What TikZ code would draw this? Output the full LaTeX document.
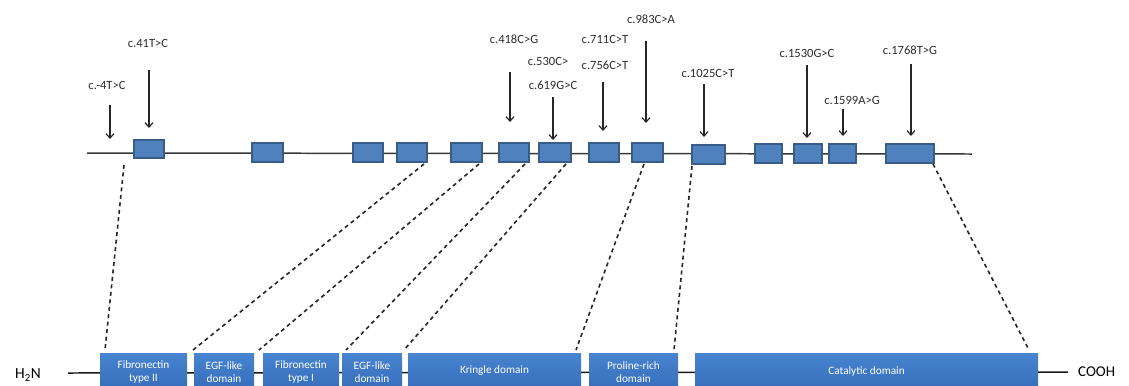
\documentclass[tikz,border=0pt]{standalone}
\usepackage{fontspec}
\setmainfont{Carlito}
\usetikzlibrary{arrows.meta,calc}
\definecolor{exfill}{RGB}{79,129,189}
\definecolor{exdraw}{RGB}{56,93,138}
\definecolor{domtop}{RGB}{72,132,208}
\definecolor{dombot}{RGB}{50,104,182}
\definecolor{txt}{RGB}{45,45,45}
\tikzset{
  exon/.style={draw=exdraw, fill=exfill, line width=1.1pt, inner sep=0pt, minimum height=19bp},
  dom/.style={top color=domtop, bottom color=dombot, draw=none, inner sep=0pt, anchor=north west},
  domtxt/.style={text=white, font=\fontsize{11.3}{13.5}\selectfont, align=center, inner sep=0pt},
  lab/.style={text=txt, font=\fontsize{12.6}{14}\selectfont, inner sep=0pt},
  mut/.style={-{Straight Barb[length=4.5bp,width=8bp,line width=1.2pt]}, line width=1.4pt, black!85},
  link/.style={dashed, dash pattern=on 4bp off 3.5bp, line width=1.6pt, black!85},
  axis/.style={line width=1.5pt, black!78},
}
\begin{document}
\begin{tikzpicture}[x=1bp,y=-1bp]
\useasboundingbox (0,0) rectangle (1129,385);
\clip (0,0) rectangle (1129,385);
\fill[white] (0,0) rectangle (1129,385);
% gene line
\coordinate (gl) at (87,153);
\coordinate (gr) at (972,154);
\draw[axis] (gl) -- (gr);
% exons
\node[exon, minimum width=30bp, minimum height=18bp] (e1) at (149,149) {};
\node[exon, minimum width=31bp] (e2) at (267.5,152.5) {};
\node[exon, minimum width=30bp] (e3) at (368,152.5) {};
\node[exon, minimum width=30bp] (e4) at (412,152.5) {};
\node[exon, minimum width=31bp] (e5) at (466.5,152.5) {};
\node[exon, minimum width=30bp] (e6) at (514,152.5) {};
\node[exon, minimum width=32bp] (e7) at (555,152.5) {};
\node[exon, minimum width=30bp] (e8) at (604,152.5) {};
\node[exon, minimum width=31bp] (e9) at (647.5,152.5) {};
\node[exon, minimum width=33bp] (e10) at (708.5,154.5) {};
\node[exon, minimum width=27bp] (e11) at (768.5,153.5) {};
\node[exon, minimum width=28bp] (e12) at (808,153.5) {};
\node[exon, minimum width=27bp] (e13) at (842.5,153.5) {};
\node[exon, minimum width=48bp] (e14) at (910,153.5) {};
% mutation labels
\node[lab] (m1) at (107,85) {c.-4T>C};
\node[lab] (m2) at (148,43) {c.41T>C};
\node[lab] (m3) at (514,39) {c.418C>G};
\node[lab] (m4) at (548,61) {c.530C>};
\node[lab] (m5) at (553,85) {c.619G>C};
\node[lab] (m6) at (605,39) {c.711C>T};
\node[lab] (m7) at (605,65) {c.756C>T};
\node[lab] (m8) at (651,19) {c.983C>A};
\node[lab] (m9) at (708,73) {c.1025C>T};
\node[lab] (m10) at (807,53) {c.1530G>C};
\node[lab] (m11) at (852,100) {c.1599A>G};
\node[lab] (m12) at (910,50) {c.1768T>G};
% mutation arrows
\coordinate (a1s) at (110,105); \coordinate (a1e) at (110,139);
\coordinate (a2s) at (149,70);  \coordinate (a2e) at (149,128);
\coordinate (a3s) at (510,72);  \coordinate (a3e) at (510,122);
\coordinate (a5s) at (553,97);  \coordinate (a5e) at (553,140);
\coordinate (a7s) at (603,82);  \coordinate (a7e) at (603,131);
\coordinate (a8s) at (646,41);  \coordinate (a8e) at (646,123);
\coordinate (a9s) at (704,84);  \coordinate (a9e) at (704,137);
\coordinate (a10s) at (807,65); \coordinate (a10e) at (807,138);
\coordinate (a11s) at (843,109); \coordinate (a11e) at (843,136);
\coordinate (a12s) at (911,64); \coordinate (a12e) at (911,136);
\foreach \i in {1,2,3,5,7,8,9,10,11,12} {\draw[mut] (a\i s) -- (a\i e);}
% protein line
\coordinate (pl) at (68,373);
\coordinate (pr) at (1068,372);
\draw[axis, black!90] (pl) -- (pr);
\node[text=black, font=\fontsize{15.5}{16}\selectfont, inner sep=0pt] (h2n) at (28,375) {H\textsubscript{2}N};
\node[text=black, font=\fontsize{15}{16}\selectfont, inner sep=0pt, anchor=west] (cooh) at (1078,372) {COOH};
% domains
\node[dom, minimum width=87bp, minimum height=45bp] (d1) at (100,353) {};
\node[dom, minimum width=60bp, minimum height=45bp] (d2) at (194,353) {};
\node[dom, minimum width=76bp, minimum height=45bp] (d3) at (263,353) {};
\node[dom, minimum width=60bp, minimum height=45bp] (d4) at (342,353) {};
\node[dom, minimum width=173bp, minimum height=45bp] (d5) at (408,353) {};
\node[dom, minimum width=89bp, minimum height=45bp] (d6) at (589,353) {};
\node[dom, minimum width=343bp, minimum height=45bp] (d7) at (695,353) {};
\node[domtxt] (t1) at (143.5,372) {Fibronectin\\type II};
\node[domtxt] (t2) at (224,372) {EGF-like\\domain};
\node[domtxt] (t3) at (301,372) {Fibronectin\\type I};
\node[domtxt] (t4) at (372,372) {EGF-like\\domain};
\node[domtxt] (t5) at (494.5,371) {Kringle domain};
\node[domtxt] (t6) at (633.5,372) {Proline-rich\\domain};
\node[domtxt] (t7) at (866.5,371) {Catalytic domain};
% dashed links
\coordinate (l1s) at (124,165); \coordinate (l1e) at (105,350);
\coordinate (l2s) at (424,164); \coordinate (l2e) at (193,350);
\coordinate (l3s) at (479,164); \coordinate (l3e) at (259,350);
\coordinate (l4s) at (525,164); \coordinate (l4e) at (346,350);
\coordinate (l5s) at (566,164); \coordinate (l5e) at (404,350);
\coordinate (l6s) at (644,164); \coordinate (l6e) at (576,350);
\coordinate (l7s) at (692,166); \coordinate (l7e) at (674,350);
\coordinate (l8s) at (933,164); \coordinate (l8e) at (1029,350);
\foreach \i in {1,...,8} {\draw[link] (l\i s) -- (l\i e);}
\end{tikzpicture}
\end{document}
